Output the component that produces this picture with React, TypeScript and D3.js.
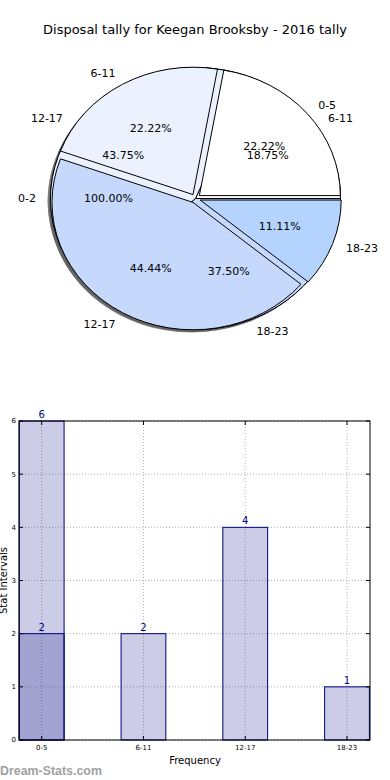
import React from "react"
import * as d3 from "d3"

// pie layers, drawn bottom to top
const outerLabels = ["0-2"]
const outerValues = [1]
const midLabels = ["6-11", "12-17", "18-23"]
const midValues = [3, 7, 6]
const topLabels = ["0-5", "6-11", "12-17", "18-23"]
const topValues = [2, 2, 4, 1]
const pieColors = ["#ffffff", "#ebf2fe", "#c6d9fd", "#b4d4ff"]

// bar chart
const barCats = ["0-5", "6-11", "12-17", "18-23"]
const barValues = [2, 2, 4, 1]
const overlayCats = ["0-5"]
const overlayValues = [6]
const yTicks = [0, 1, 2, 3, 4, 5, 6]

const W = 390
const H = 780
const font = "'DejaVu Sans', sans-serif"

const cx = 195.5
const cy = 198.5
const rx = 145
const ry = 131
const sy = ry / rx

type Layer = { labels: string[]; values: number[]; explode: number; r: number }
const layers: Layer[] = [
  { labels: outerLabels, values: outerValues, explode: 0, r: rx },
  { labels: midLabels, values: midValues, explode: 0, r: rx },
  { labels: topLabels, values: topValues, explode: 5, r: 141 },
]

const pieGen = d3.pie<number>().sort(null).startAngle(Math.PI / 2).endAngle(Math.PI / 2 - 2 * Math.PI)

const App = () => {
  const built = layers.map((layer) => {
    const total = d3.sum(layer.values)
    const arcGen = d3.arc<d3.PieArcDatum<number>>().innerRadius(0).outerRadius(layer.r)
    return pieGen(layer.values).map((d, i) => {
      const mid = (d.startAngle + d.endAngle) / 2
      const ux = Math.sin(mid)
      const uy = -Math.cos(mid)
      return {
        path: arcGen(d) as string,
        r: layer.r,
        ox: ux * layer.explode,
        oy: uy * layer.explode * sy,
        ux, uy,
        color: pieColors[i % pieColors.length],
        label: layer.labels[i],
        pct: ((100 * d.value) / total).toFixed(2) + "%",
      }
    })
  })

  // bar chart scales
  const x = d3.scaleLinear().domain([-0.223, 3.226]).range([19, 370])
  const y = d3.scaleLinear().domain([0, 6]).range([740, 421])
  const bw = x(0.44) - x(0)
  const left = 19, right = 370, top = 421, bottom = 740

  const sdx = -0.02 * rx
  const sdy = 0.02 * ry

  return (
    <svg width={W} height={H} style={{ position: "absolute", left: 0, top: 0, background: "#fff" }} fontFamily={font}>
      <text x={195} y={34} textAnchor="middle" fontSize={13}>Disposal tally for Keegan Brooksby - 2016 tally</text>

      {/* shadows below every wedge */}
      {built.map((wedges, li) =>
        wedges.map((w, i) => (
          <path key={`s${li}-${i}`} d={w.path}
            transform={`translate(${cx + w.ox + sdx},${cy + w.oy + sdy}) scale(1,${sy})`}
            fill="#4d4d4d" fillOpacity={0.5} stroke="none" />
        ))
      )}
      {built.map((wedges, li) =>
        wedges.map((w, i) => (
          <path key={`w${li}-${i}`} d={w.path}
            transform={`translate(${cx + w.ox},${cy + w.oy}) scale(1,${sy})`}
            fill={w.color} stroke="#000" strokeWidth={1} vectorEffect="non-scaling-stroke" strokeLinejoin="round" />
        ))
      )}
      {built.map((wedges, li) =>
        wedges.map((w, i) => {
          const lx = cx + w.ox + w.ux * w.r * 1.1
          const ly = cy + w.oy + w.uy * w.r * sy * 1.1
          const px = cx + w.ox + w.ux * w.r * 0.6
          const py = cy + w.oy + w.uy * w.r * sy * 0.6
          return (
            <g key={`t${li}-${i}`} fontSize={11}>
              <text x={lx} y={ly} dy="0.35em" textAnchor={w.ux > 1e-6 ? "start" : "end"}>{w.label}</text>
              <text x={px} y={py} dy="0.35em" textAnchor="middle">{w.pct}</text>
            </g>
          )
        })
      )}

      {/* bar chart */}
      {yTicks.map((t) => (
        <line key={`gy${t}`} x1={left} x2={right} y1={y(t)} y2={y(t)} stroke="#b0b0b0" strokeDasharray="1,2" />
      ))}
      {barCats.map((c, i) => (
        <line key={`gx${c}`} x1={x(i)} x2={x(i)} y1={top} y2={bottom} stroke="#b0b0b0" strokeDasharray="1,2" />
      ))}
      {overlayCats.map((c, j) => {
        const i = barCats.indexOf(c)
        return (
          <rect key={`o${c}`} x={x(i) - bw / 2} y={y(overlayValues[j])} width={bw} height={bottom - y(overlayValues[j])}
            fill="#000080" fillOpacity={0.2} stroke="#000080" strokeWidth={1} />
        )
      })}
      {barCats.map((c, i) => (
        <rect key={`b${c}`} x={x(i) - bw / 2} y={y(barValues[i])} width={bw} height={bottom - y(barValues[i])}
          fill="#000080" fillOpacity={0.2} stroke="#000080" strokeWidth={1} />
      ))}
      <rect x={left} y={top} width={right - left} height={bottom - top} fill="none" stroke="#000" strokeWidth={1} />
      {yTicks.map((t) => (
        <g key={`ty${t}`}>
          <line x1={left} x2={left + 4} y1={y(t)} y2={y(t)} stroke="#000" />
          <line x1={right - 4} x2={right} y1={y(t)} y2={y(t)} stroke="#000" />
          <text x={left - 3} y={y(t)} dy="0.35em" textAnchor="end" fontSize={7}>{t}</text>
        </g>
      ))}
      {barCats.map((c, i) => (
        <g key={`tx${c}`}>
          <line x1={x(i)} x2={x(i)} y1={bottom} y2={bottom - 4} stroke="#000" />
          <line x1={x(i)} x2={x(i)} y1={top} y2={top + 4} stroke="#000" />
          <text x={x(i)} y={bottom + 10} textAnchor="middle" fontSize={7}>{c}</text>
        </g>
      ))}
      {overlayCats.map((c, j) => (
        <text key={`vo${c}`} x={x(barCats.indexOf(c))} y={y(overlayValues[j]) - 3} textAnchor="middle" fontSize={10} fill="#000080">{overlayValues[j]}</text>
      ))}
      {barCats.map((c, i) => (
        <text key={`v${c}`} x={x(i)} y={y(barValues[i]) - 3} textAnchor="middle" fontSize={10} fill="#000080">{barValues[i]}</text>
      ))}
      <text x={195} y={764} textAnchor="middle" fontSize={10}>Frequency</text>
      <text transform={`translate(7,${(top + bottom) / 2}) rotate(-90)`} textAnchor="middle" fontSize={10}>Stat Intervals</text>
      <text x={0} y={775} fontSize={12.4} fontWeight="bold" fill="#a0a0a0" fontFamily="'Liberation Sans', Arial, sans-serif">Dream-Stats.com</text>
    </svg>
  )
}

export default App
